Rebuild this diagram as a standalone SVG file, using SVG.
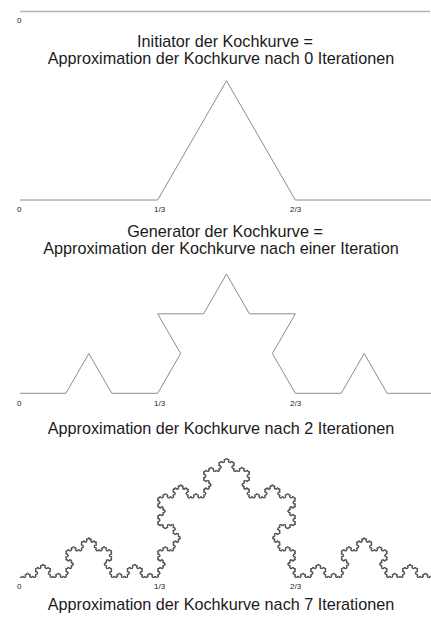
<svg xmlns="http://www.w3.org/2000/svg" xmlns:xlink="http://www.w3.org/1999/xlink" width="431" height="622" viewBox="0 0 431 622">
<style>
.curve{fill:none;stroke:#8c8c8c;stroke-width:1;stroke-linejoin:round}
.dense{fill:none;stroke:#4a4a4a;stroke-width:1.1;stroke-linejoin:round}
.init{fill:none;stroke:#b4b4b4;stroke-width:1.6}
.lbl{font-family:"Liberation Sans",Arial,sans-serif;font-size:8px;fill:#222}
.ttl{font-family:"Liberation Sans",Arial,sans-serif;font-size:16.2px;fill:#1a1a1a;text-anchor:middle}
.seg{vector-effect:non-scaling-stroke}
</style>
<defs>
<g id="k0"><path class="seg" d="M0 0H1"/></g>
<g id="k1"><use href="#k0" transform="scale(0.3333333)"/><use href="#k0" transform="translate(0.3333333 0) rotate(-60) scale(0.3333333)"/><use href="#k0" transform="translate(0.5 -0.2886751) rotate(60) scale(0.3333333)"/><use href="#k0" transform="translate(0.6666667 0) scale(0.3333333)"/></g>
<g id="k2"><use href="#k1" transform="scale(0.3333333)"/><use href="#k1" transform="translate(0.3333333 0) rotate(-60) scale(0.3333333)"/><use href="#k1" transform="translate(0.5 -0.2886751) rotate(60) scale(0.3333333)"/><use href="#k1" transform="translate(0.6666667 0) scale(0.3333333)"/></g>
<g id="k3"><use href="#k2" transform="scale(0.3333333)"/><use href="#k2" transform="translate(0.3333333 0) rotate(-60) scale(0.3333333)"/><use href="#k2" transform="translate(0.5 -0.2886751) rotate(60) scale(0.3333333)"/><use href="#k2" transform="translate(0.6666667 0) scale(0.3333333)"/></g>
<g id="k4"><use href="#k3" transform="scale(0.3333333)"/><use href="#k3" transform="translate(0.3333333 0) rotate(-60) scale(0.3333333)"/><use href="#k3" transform="translate(0.5 -0.2886751) rotate(60) scale(0.3333333)"/><use href="#k3" transform="translate(0.6666667 0) scale(0.3333333)"/></g>
<g id="k5"><use href="#k4" transform="scale(0.3333333)"/><use href="#k4" transform="translate(0.3333333 0) rotate(-60) scale(0.3333333)"/><use href="#k4" transform="translate(0.5 -0.2886751) rotate(60) scale(0.3333333)"/><use href="#k4" transform="translate(0.6666667 0) scale(0.3333333)"/></g>
<g id="k6"><use href="#k5" transform="scale(0.3333333)"/><use href="#k5" transform="translate(0.3333333 0) rotate(-60) scale(0.3333333)"/><use href="#k5" transform="translate(0.5 -0.2886751) rotate(60) scale(0.3333333)"/><use href="#k5" transform="translate(0.6666667 0) scale(0.3333333)"/></g>
<g id="k7"><use href="#k6" transform="scale(0.3333333)"/><use href="#k6" transform="translate(0.3333333 0) rotate(-60) scale(0.3333333)"/><use href="#k6" transform="translate(0.5 -0.2886751) rotate(60) scale(0.3333333)"/><use href="#k6" transform="translate(0.6666667 0) scale(0.3333333)"/></g>
</defs>
<rect width="431" height="622" fill="#fff"/>
<g id="initiator">
<line class="init" x1="20" y1="11.5" x2="430" y2="11.5"/>
<text class="lbl" x="17" y="23">0</text>
<text class="ttl" x="225" y="47">Initiator der Kochkurve =</text>
<text class="ttl" x="221" y="64">Approximation der Kochkurve nach 0 Iterationen</text>
</g>
<g id="generator">
<polyline class="curve" points="20,200 157.67,200 226.5,80.78 295.33,200 433,200"/>
<text class="lbl" x="17" y="211.5">0</text>
<text class="lbl" x="154" y="211.5">1/3</text>
<text class="lbl" x="290" y="211.5">2/3</text>
<text class="ttl" x="225" y="237">Generator der Kochkurve =</text>
<text class="ttl" x="221" y="254">Approximation der Kochkurve nach einer Iteration</text>
</g>
<g id="iteration2">
<polyline class="curve" points="20,393.3 65.89,393.3 88.83,353.56 111.78,393.3 157.67,393.3 180.61,353.56 157.67,313.82 203.56,313.82 226.5,274.08 249.44,313.82 295.33,313.82 272.39,353.56 295.33,393.3 341.22,393.3 364.17,353.56 387.11,393.3 433,393.3"/>
<text class="lbl" x="17" y="405.5">0</text>
<text class="lbl" x="154" y="405.5">1/3</text>
<text class="lbl" x="290" y="405.5">2/3</text>
<text class="ttl" x="221" y="434">Approximation der Kochkurve nach 2 Iterationen</text>
</g>
<g id="iteration7">
<use class="dense" href="#k7" transform="translate(20 577.5) scale(413)"/>
<text class="lbl" x="17" y="589">0</text>
<text class="lbl" x="154" y="589">1/3</text>
<text class="lbl" x="290" y="589">2/3</text>
<text class="ttl" x="221" y="610">Approximation der Kochkurve nach 7 Iterationen</text>
</g>
</svg>
